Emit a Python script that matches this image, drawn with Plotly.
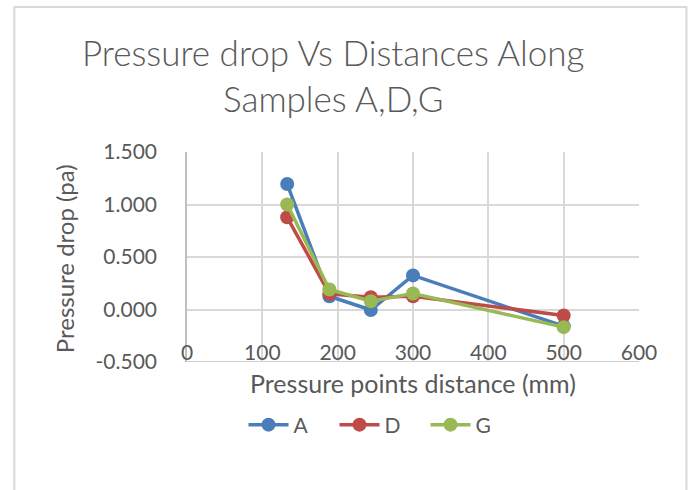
import plotly.graph_objects as go

# Pressure point positions along the samples (mm)
distance_mm = [133, 189, 244, 300, 500]

# Pressure drop readings (pa) for each sample
sample_a = [1.195, 0.126, -0.005, 0.325, -0.158]
sample_d = [0.878, 0.150, 0.116, 0.126, -0.057]
sample_g = [1.000, 0.190, 0.079, 0.152, -0.168]

series_names = ["A", "D", "G"]
series_colors = ["#4A7EBB", "#BE4B48", "#98B954"]

x_ticks = [0, 100, 200, 300, 400, 500, 600]
y_ticks = [-0.5, 0.0, 0.5, 1.0, 1.5]
y_tick_text = [f"{v:.3f}" for v in y_ticks]

text_color = "#595959"
grid_color = "#D9D9D9"
font_family = "Lato"

fig = go.Figure()
for name, values, color in zip(series_names, [sample_a, sample_d, sample_g], series_colors):
    fig.add_trace(go.Scatter(
        x=distance_mm, y=values, name=name, mode="lines+markers",
        line=dict(color=color, width=3.5),
        marker=dict(color=color, size=14),
    ))

fig.update_layout(
    width=694, height=490,
    margin=dict(l=187, r=55, t=152, b=128),
    paper_bgcolor="white", plot_bgcolor="white",
    font=dict(family=font_family, color=text_color, size=20),
    showlegend=True,
    legend=dict(
        orientation="h", x=0.125, xanchor="left", y=-0.30, yanchor="middle",
        font=dict(size=21, color=text_color), itemwidth=40,
        entrywidth=36, entrywidthmode="pixels",
        traceorder="normal",
    ),
    # distance axis: labels float just above the bottom edge of the plot
    xaxis=dict(
        range=[0, 600], tickvals=x_ticks,
        anchor="free", position=0.112,
        showgrid=True, gridcolor=grid_color, gridwidth=1.5,
        showline=False, zeroline=False, ticks="",
        tickfont=dict(size=21, color=text_color),
        fixedrange=True,
    ),
    yaxis=dict(
        range=[-0.5, 1.5], tickvals=y_ticks, ticktext=y_tick_text,
        showgrid=True, gridcolor=grid_color, gridwidth=1.5,
        showline=True, linecolor="#BFBFBF", linewidth=1.5,
        zeroline=False, ticks="", ticklabelstandoff=24,
        tickfont=dict(size=21, color=text_color),
        fixedrange=True,
    ),
    annotations=[
        dict(text="Pressure drop Vs Distances Along<br>Samples A,D,G",
             xref="paper", yref="paper", x=0.3227, y=1.585, xanchor="center", yanchor="top",
             showarrow=False, font=dict(size=35, color=text_color, family=font_family, weight=300),
             align="center"),
        dict(text="Pressure points distance (mm)",
             xref="paper", yref="paper", x=0.5, y=-0.10, xanchor="center", yanchor="middle",
             showarrow=False, font=dict(size=25, color=text_color)),
        dict(text="Pressure drop (pa)", textangle=-90,
             xref="paper", yref="paper", x=-0.272, y=0.49, xanchor="center", yanchor="middle",
             showarrow=False, font=dict(size=24, color=text_color)),
    ],
    shapes=[
        # bottom edge of the plot area
        dict(type="line", xref="paper", yref="y", x0=0, x1=1, y0=-0.5, y1=-0.5,
             line=dict(color="#BFBFBF", width=1.5), layer="below"),
        # chart frame
        dict(type="rect", xref="paper", yref="paper",
             x0=-0.382, x1=1.105, y0=-0.75, y1=1.69,
             line=dict(color="#D9D9D9", width=2), fillcolor="rgba(0,0,0,0)", layer="below"),
    ],
)

fig.write_html("out.html")
